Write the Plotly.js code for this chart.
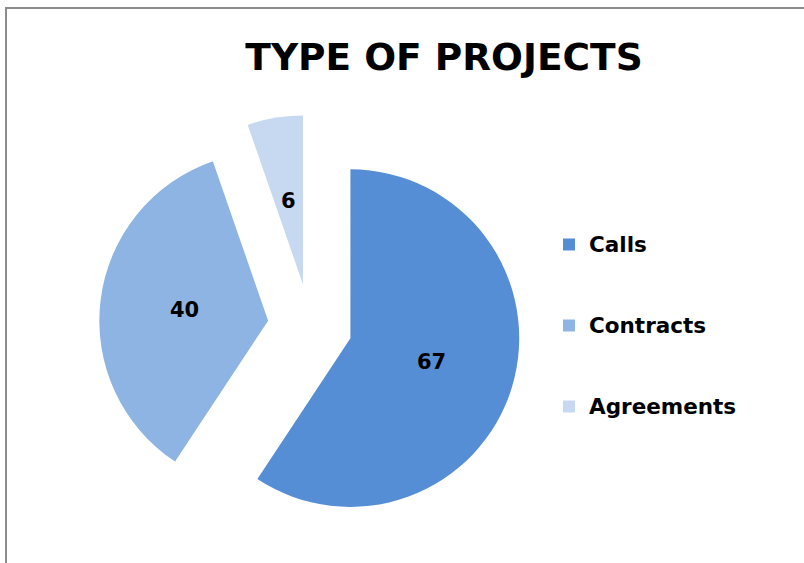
<!DOCTYPE html>
<html>
<head>
<meta charset="utf-8">
<script src="https://cdn.plot.ly/plotly-3.0.1.min.js"></script>
<style>
html,body{margin:0;padding:0;background:#fff;}
#chart{width:804px;height:563px;}
</style>
</head>
<body>
<div id="chart"></div>
<script>
const categories = ["Calls", "Contracts", "Agreements"];
const values = [67, 40, 6];
const colors = ["#558ED5", "#8EB4E3", "#C6D9F1"];
const titleText = "TYPE OF PROJECTS";

const W = 804, H = 563;
const cx = 310, cy = 326, outer = 211;
const pull = 0.25;
const FONT = "DejaVu Sans";

const trace = {
  type: "pie",
  labels: categories.map(c => "<span style='font-size:21.5px'>" + c + "</span><br> <br> "),
  values: values,
  sort: false,
  direction: "clockwise",
  rotation: 0,
  pull: pull,
  marker: {colors: colors, line: {width: 0}},
  textinfo: "none",
  hoverinfo: "none",
  domain: {x: [(cx - outer) / W, (cx + outer) / W], y: [(H - cy - outer) / H, (H - cy + outer) / H]}
};

// value labels placed at half radius along each slice bisector (derived from the values)
const total = values.reduce((a, b) => a + b, 0);
const r = outer / (1 + pull);
let cum = 0;
const annotations = values.map(v => {
  const mid = (cum + v / 2) / total * 2 * Math.PI;
  cum += v;
  const d = r * pull + r * 0.5;
  const px = cx + d * Math.sin(mid);
  const py = cy - d * Math.cos(mid);
  return {
    x: px / W, y: 1 - py / H, xref: "paper", yref: "paper",
    text: String(v), showarrow: false, xanchor: "center", yanchor: "middle",
    font: {family: FONT, size: 21, color: "#000000", weight: "bold"}
  };
});

const layout = {
  width: W, height: H,
  margin: {l: 0, r: 0, t: 0, b: 0},
  paper_bgcolor: "#ffffff",
  title: {
    text: titleText,
    font: {family: FONT, size: 37.5, color: "#000000", weight: "bold"},
    x: 444 / W, xanchor: "center", xref: "container",
    y: 1 - 57 / H, yanchor: "middle", yref: "container"
  },
  showlegend: true,
  legend: {
    x: 549 / W, xanchor: "left",
    y: 1 - 225 / H, yanchor: "top",
    valign: "top",
    font: {family: FONT, size: 20, color: "#000000", weight: "bold"},
    bgcolor: "rgba(0,0,0,0)"
  },
  annotations: annotations,
  shapes: [{
    type: "path", xref: "paper", yref: "paper",
    path: "M " + (6 / W) + "," + (-0.1) + " L " + (6 / W) + "," + (1 - 8 / H) + " L 1.1," + (1 - 8 / H),
    line: {color: "#8c8c8c", width: 2}
  }]
};

Plotly.newPlot("chart", [trace], layout, {displayModeBar: false, staticPlot: true});
</script>
</body>
</html>
